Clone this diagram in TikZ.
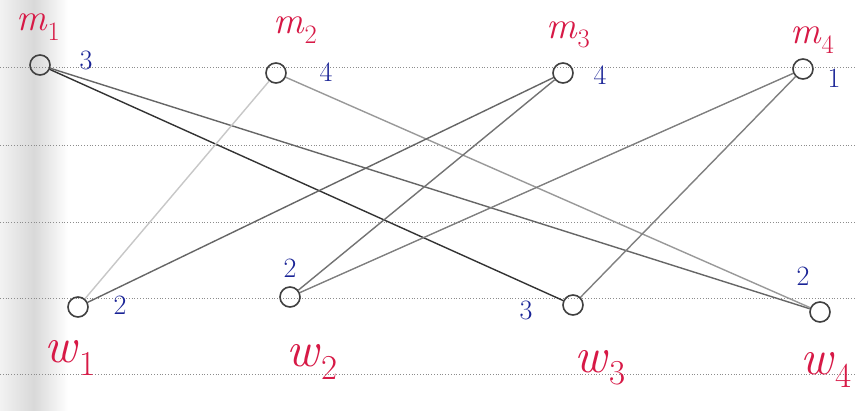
\documentclass[tikz,border=0pt]{standalone}
\definecolor{inkred}{RGB}{215,25,70}
\definecolor{inkblue}{RGB}{25,35,150}
\newcommand{\lbl}[2]{\textit{#1}\raisebox{-0.25em}{\scalebox{0.7}{#2}}}
\begin{document}
\begin{tikzpicture}[x=1pt,y=-1pt,
  vtx/.style={circle,draw=black!75,line width=1.6pt,minimum size=20pt,inner sep=0pt},
  mlab/.style={text=inkred,inner sep=0pt,font=\fontsize{38}{40}\selectfont},
  wlab/.style={text=inkred,inner sep=0pt,font=\fontsize{50}{52}\selectfont},
  num/.style={text=inkblue,font=\fontsize{28}{30}\selectfont},
  ruling/.style={black!45,line width=0.8pt,dotted},
  edge/.style={line width=1.4pt}]
\useasboundingbox (0,0) rectangle (857,411);
\fill[white] (0,0) rectangle (857,411);
\shade[left color=gray!10,right color=white,middle color=gray!30,shading angle=90] (0,0) rectangle (68,411);
\foreach \yy in {67,145,222,298,374} \draw[ruling] (0,\yy) -- (857,\yy);
% vertices
\node[vtx] (m1) at (40,65) {};
\node[vtx] (m2) at (276,73) {};
\node[vtx] (m3) at (563,73) {};
\node[vtx] (m4) at (803,69) {};
\node[vtx] (w1) at (78,307) {};
\node[vtx] (w2) at (290,297) {};
\node[vtx] (w3) at (573,305) {};
\node[vtx] (w4) at (820,312) {};
% edges
\draw[edge,black!80] (m1) -- (w3);
\draw[edge,black!60] (m1) -- (w4);
\draw[edge,black!22] (m2) -- (w1);
\draw[edge,black!40] (m2) -- (w4);
\draw[edge,black!60] (m3) -- (w1);
\draw[edge,black!55] (m3) -- (w2);
\draw[edge,black!50] (m4) -- (w2);
\draw[edge,black!50] (m4) -- (w3);
% labels
\node[mlab] (lm1) at (38,27) {\lbl{m}{1}};
\node[mlab] (lm2) at (295,30) {\lbl{m}{2}};
\node[mlab] (lm3) at (568,35) {\lbl{m}{3}};
\node[mlab] (lm4) at (812,40) {\lbl{m}{4}};
\node[wlab] (lw1) at (70,358) {\lbl{w}{1}};
\node[wlab] (lw2) at (312,362) {\lbl{w}{2}};
\node[wlab] (lw3) at (600,368) {\lbl{w}{3}};
\node[wlab] (lw4) at (826,370) {\lbl{w}{4}};
% numbers
\node[num] (n1) at (86,60) {3};
\node[num] (n2) at (326,72) {4};
\node[num] (n3) at (600,75) {4};
\node[num] (n4) at (834,78) {1};
\node[num] (n5) at (120,305) {2};
\node[num] (n6) at (290,268) {2};
\node[num] (n7) at (526,310) {3};
\node[num] (n8) at (803,276) {2};
\end{tikzpicture}
\end{document}
